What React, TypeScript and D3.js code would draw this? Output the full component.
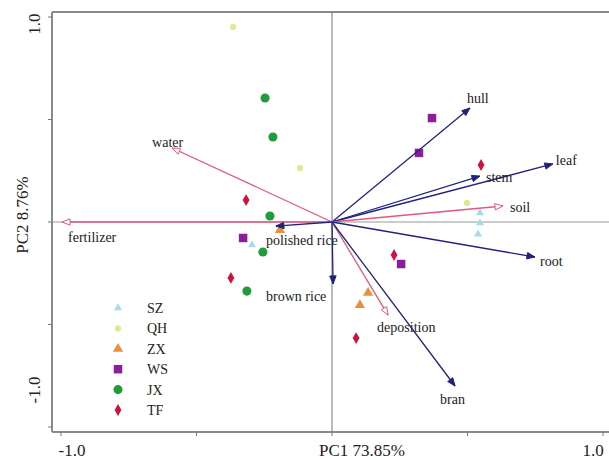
import React from "react";
import * as d3 from "d3";

// loadings (arrows)
const varNames = ["hull", "leaf", "stem", "soil", "root", "water", "fertilizer", "polished rice", "brown rice", "deposition", "bran"];
const varPC1 = [0.509, 0.815, 0.546, 0.631, 0.749, -0.59, -0.996, -0.207, 0.004, 0.207, 0.454];
const varPC2 = [0.556, 0.283, 0.224, 0.078, -0.171, 0.361, 0.0, -0.02, -0.302, -0.454, -0.8];
const varGroup = ["rice", "rice", "rice", "env", "rice", "env", "env", "rice", "rice", "env", "rice"];

// sample scores
const groups = ["SZ", "QH", "ZX", "WS", "JX", "TF"];
const szX = [0.546, 0.546, 0.539, -0.295];
const szY = [0.044, -0.005, -0.059, -0.112];
const qhX = [-0.365, -0.118, 0.498];
const qhY = [0.951, 0.263, 0.093];
const zxX = [0.133, 0.103, -0.192];
const zxY = [-0.346, -0.405, -0.039];
const wsX = [0.369, 0.321, -0.328, 0.255];
const wsY = [0.507, 0.337, -0.078, -0.205];
const jxX = [-0.247, -0.218, -0.229, -0.255, -0.314];
const jxY = [0.605, 0.415, 0.029, -0.146, -0.337];
const tfX = [0.55, -0.317, -0.373, 0.089, 0.229];
const tfY = [0.278, 0.107, -0.273, -0.566, -0.161];

const ticks = [-1, -0.5, 0, 0.5, 1];

const groupColor: Record<string, string> = {
  SZ: "#a9dbe9",
  QH: "#d9ec92",
  ZX: "#e8913c",
  WS: "#8c1e9c",
  JX: "#1f9d3d",
  TF: "#cf113d",
};
const groupShape: Record<string, d3.SymbolType> = {
  SZ: d3.symbolTriangle,
  QH: d3.symbolCircle,
  ZX: d3.symbolTriangle,
  WS: d3.symbolSquare,
  JX: d3.symbolCircle,
  TF: d3.symbolDiamond,
};
const groupSize: Record<string, number> = { SZ: 28, QH: 30, ZX: 45, WS: 72, JX: 65, TF: 40 };

// label offsets from arrow tips (px)
const labelOffset: Record<string, [number, number]> = {
  hull: [-3, -5],
  leaf: [3, 1],
  stem: [6, 6],
  soil: [7, 6],
  root: [5, 9],
  water: [-20, -1],
  fertilizer: [6, 20],
  "polished rice": [-10, 19],
  "brown rice": [-67, 17],
  deposition: [-11, 17],
  bran: [-15, 18],
};

const W = 609;
const H = 460;
const FONT = "'Liberation Serif', 'Times New Roman', serif";
const axisCol = "#8a8a8a";
const navy = "#22227e";
const pink = "#e0587e";
const txt = "#222";

export default function App() {
  const x = d3.scaleLinear().domain([-1, 1]).range([61, 603]);
  const y = d3.scaleLinear().domain([-1, 1]).range([427, 17]);
  const left = 52;
  const top = 12;
  const bottom = 432;

  const pts = [
    { g: "SZ", xs: szX, ys: szY },
    { g: "QH", xs: qhX, ys: qhY },
    { g: "ZX", xs: zxX, ys: zxY },
    { g: "WS", xs: wsX, ys: wsY },
    { g: "JX", xs: jxX, ys: jxY },
    { g: "TF", xs: tfX, ys: tfY },
  ];

  const arrowHead = (x0: number, y0: number, x1: number, y1: number) => {
    const ang = Math.atan2(y1 - y0, x1 - x0);
    const L = 8;
    const w = 3.2;
    const bx = x1 - L * Math.cos(ang);
    const by = y1 - L * Math.sin(ang);
    const px = -Math.sin(ang) * w;
    const py = Math.cos(ang) * w;
    return `M${x1},${y1}L${bx + px},${by + py}L${bx - px},${by - py}Z`;
  };

  return (
    <svg width={W} height={H} style={{ position: "absolute", left: 0, top: 0, background: "#fff" }} fontFamily={FONT}>
      {/* frame */}
      <line x1={left} x2={W} y1={top} y2={top} stroke={axisCol} strokeWidth={2} />
      <line x1={left} x2={W} y1={bottom} y2={bottom} stroke={axisCol} strokeWidth={2} />
      <line x1={left} x2={left} y1={top} y2={bottom} stroke={axisCol} strokeWidth={2} />
      {/* center lines */}
      <line x1={x(0)} x2={x(0)} y1={top} y2={bottom} stroke="#777" strokeWidth={1} />
      <line x1={left} x2={W} y1={y(0)} y2={y(0)} stroke="#999" strokeWidth={1} />
      {/* ticks */}
      {ticks.map((t) => (
        <g key={"t" + t}>
          <line x1={x(t)} x2={x(t)} y1={bottom} y2={bottom + 4} stroke="#777" strokeWidth={1} />
          <line x1={left - 4} x2={left} y1={y(t)} y2={y(t)} stroke="#777" strokeWidth={1} />
        </g>
      ))}
      <text x={72} y={456} fontSize={17} textAnchor="middle" fill={txt}>-1.0</text>
      <text x={593} y={456} fontSize={17} textAnchor="middle" fill={txt}>1.0</text>
      <text x={362} y={456} fontSize={17} textAnchor="middle" fill={txt}>PC1 73.85%</text>
      <text transform="translate(40,24) rotate(-90)" fontSize={17} textAnchor="middle" fill={txt}>1.0</text>
      <text transform="translate(40,390) rotate(-90)" fontSize={17} textAnchor="middle" fill={txt}>-1.0</text>
      <text transform="translate(28,215) rotate(-90)" fontSize={17} textAnchor="middle" fill={txt}>PC2 8.76%</text>

      {/* points */}
      {pts.map((p) =>
        p.xs.map((v, i) => (
          <path
            key={p.g + i}
            d={d3.symbol().type(groupShape[p.g]).size(groupSize[p.g])() || ""}
            transform={`translate(${x(v)},${y(p.ys[i])})`}
            fill={groupColor[p.g]}
          />
        ))
      )}

      {/* arrows */}
      {varNames.map((n, i) => {
        const col = varGroup[i] === "env" ? pink : navy;
        const x0 = x(0), y0 = y(0), x1 = x(varPC1[i]), y1 = y(varPC2[i]);
        const off = labelOffset[n];
        return (
          <g key={n}>
            <line x1={x0} y1={y0} x2={x1} y2={y1} stroke={col} strokeWidth={1.3} />
            <path d={arrowHead(x0, y0, x1, y1)} fill={varGroup[i] === "env" ? "#fff" : col} stroke={col} strokeWidth={1} />
            <text x={x1 + off[0]} y={y1 + off[1]} fontSize={14} fill={txt}>{n}</text>
          </g>
        );
      })}

      {/* legend */}
      {groups.map((g, i) => {
        const ly = 308 + i * 20.4;
        return (
          <g key={g}>
            <path
              d={d3.symbol().type(groupShape[g]).size(groupSize[g])() || ""}
              transform={`translate(118,${ly})`}
              fill={groupColor[g]}
            />
            <text x={147} y={ly + 5} fontSize={14} fill={txt}>{g}</text>
          </g>
        );
      })}
    </svg>
  );
}
